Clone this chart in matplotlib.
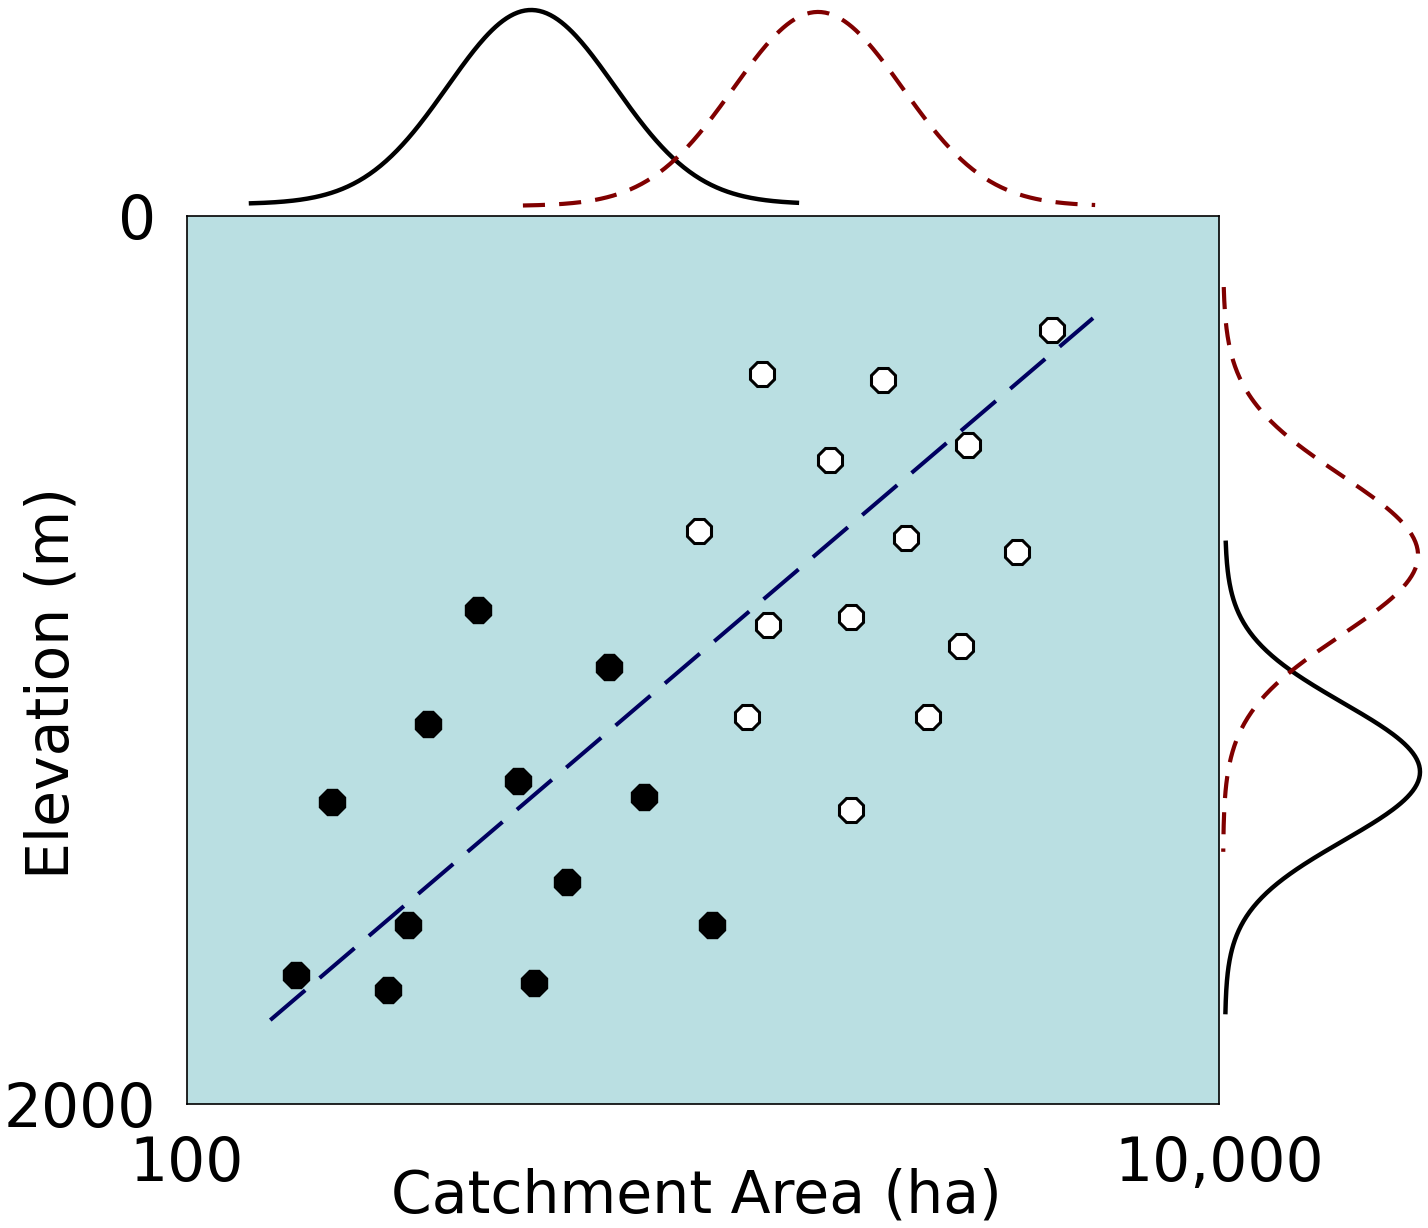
import numpy as np
import matplotlib
matplotlib.use("Agg")
import matplotlib.pyplot as plt

plt.rcParams['font.family'] = ['DejaVu Sans']

# ---- data ----
low_area = [163, 245, 268, 191, 293, 366, 438, 471, 545, 657, 769, 1041]
low_elev = [1710, 1743, 1597, 1320, 1144, 887, 1273, 1728, 1500, 1016, 1309, 1597]

high_area = [1301, 2233, 4747, 1763, 3263, 982, 2474, 4060, 1337, 1935, 3162, 1217, 2729, 1935]
high_elev = [356, 369, 257, 550, 516, 710, 725, 757, 921, 903, 969, 1128, 1128, 1338]

trend_area = [145, 5700]
trend_elev = [1811, 230]

# marginal normal densities (mean, sd, range) ; area in log10(ha)
area_low_mu, area_low_sd, area_low_rng = 2.667, 0.162, (2.124, 3.182)
area_high_mu, area_high_sd, area_high_rng = 3.223, 0.164, (2.651, 3.76)
elev_low_mu, elev_low_sd, elev_low_rng = 1252, 155, (736, 1793)
elev_high_mu, elev_high_sd, elev_high_rng = 764, 180, (160, 1432)

xticks = [100, 10000]
xticklabels = ["100", "10,000"]
yticks = [0, 2000]
yticklabels = ["0", "2000"]

W, H = 1428, 1228
fig = plt.figure(figsize=(W / 100, H / 100), dpi=100)

def px_axes(l, t, r, b):
    return fig.add_axes([l / W, 1 - b / H, (r - l) / W, (b - t) / H])

ax = px_axes(187, 216, 1219, 1104)
ax.set_facecolor("#BADFE2")
ax.set_xscale("log")
ax.set_xlim(100, 10000)
ax.set_ylim(2000, 0)
for s in ax.spines.values():
    s.set_linewidth(1.2)
    s.set_color("black")

ax.plot(trend_area, trend_elev, color="#000060", lw=2.9, dashes=(11.4, 4.7), zorder=2)
ax.plot(low_area, low_elev, linestyle="none", marker="8", ms=19.5, mfc="black",
        mec="black", mew=1, zorder=3)
ax.plot(high_area, high_elev, linestyle="none", marker="8", ms=19, mfc="white",
        mec="black", mew=2.2, zorder=3)

ax.set_xticks(xticks)
ax.set_xticklabels(xticklabels)
ax.set_yticks(yticks)
ax.set_yticklabels(yticklabels)
ax.xaxis.set_minor_locator(matplotlib.ticker.NullLocator())
ax.tick_params(axis="both", length=0, labelsize=43)
ax.tick_params(axis="x", pad=22)
ax.tick_params(axis="y", pad=22)

ax.set_xlabel("Catchment Area (ha)", fontsize=42)
ax.xaxis.set_label_coords(0.494, -0.072)
ax.set_ylabel("Elevation (m)", fontsize=42)
ax.yaxis.set_label_coords(-0.103, 0.474)

def gauss(v, mu, sd):
    return np.exp(-0.5 * ((v - mu) / sd) ** 2)

# top marginal
axt = px_axes(187, 10, 1219, 204)
axt.set_xlim(2, 4)
axt.set_ylim(0, 1)
axt.axis("off")
v = np.linspace(*area_low_rng, 300)
axt.plot(v, gauss(v, area_low_mu, area_low_sd), color="black", lw=3.2, clip_on=False)
v = np.linspace(*area_high_rng, 300)
axt.plot(v, gauss(v, area_high_mu, area_high_sd) - 0.01, color="#800000", lw=3.0,
         dashes=(5.3, 3.4), clip_on=False)

# right marginal
axr = px_axes(1225, 216, 1420, 1104)
axr.set_ylim(2000, 0)
axr.set_xlim(0, 1)
axr.axis("off")
v = np.linspace(*elev_low_rng, 300)
axr.plot(gauss(v, elev_low_mu, elev_low_sd), v, color="black", lw=3.2, clip_on=False)
v = np.linspace(*elev_high_rng, 300)
axr.plot(gauss(v, elev_high_mu, elev_high_sd) - 0.01, v, color="#800000", lw=3.0,
         dashes=(5.3, 3.4), clip_on=False)

fig.savefig("out.png", dpi=100)
